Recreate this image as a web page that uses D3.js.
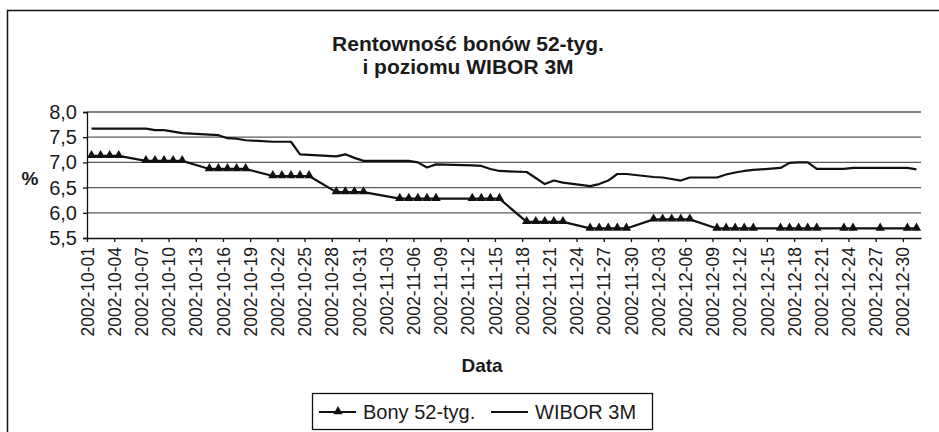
<!DOCTYPE html>
<html>
<head>
<meta charset="utf-8">
<script src="https://cdnjs.cloudflare.com/ajax/libs/d3/7.8.5/d3.min.js"></script>
<style>
  body { margin: 0; background: #fff; }
  text { font-family: "Liberation Sans", Arial, sans-serif; fill: #1a1a1a; }
</style>
</head>
<body>
<div id="chart-area"></div>
<script>
// SVG size
var width = 939,
    height = 432;

var margin = {left: 87, right: 18, top: 112, bottom: 194};

// Trading days (Oct - Dec 2002)
var dates = [
  "2002-10-01","2002-10-02","2002-10-03","2002-10-04",
  "2002-10-07","2002-10-08","2002-10-09","2002-10-10","2002-10-11",
  "2002-10-14","2002-10-15","2002-10-16","2002-10-17","2002-10-18",
  "2002-10-21","2002-10-22","2002-10-23","2002-10-24","2002-10-25",
  "2002-10-28","2002-10-29","2002-10-30","2002-10-31",
  "2002-11-04","2002-11-05","2002-11-06","2002-11-07","2002-11-08",
  "2002-11-12","2002-11-13","2002-11-14","2002-11-15",
  "2002-11-18","2002-11-19","2002-11-20","2002-11-21","2002-11-22",
  "2002-11-25","2002-11-26","2002-11-27","2002-11-28","2002-11-29",
  "2002-12-02","2002-12-03","2002-12-04","2002-12-05","2002-12-06",
  "2002-12-09","2002-12-10","2002-12-11","2002-12-12","2002-12-13",
  "2002-12-16","2002-12-17","2002-12-18","2002-12-19","2002-12-20",
  "2002-12-23","2002-12-24","2002-12-27","2002-12-30","2002-12-31"
];

// Bony 52-tyg.
var bony = [
  7.13, 7.13, 7.13, 7.13,
  7.03, 7.03, 7.03, 7.03, 7.03,
  6.87, 6.87, 6.87, 6.87, 6.87,
  6.73, 6.73, 6.73, 6.73, 6.73,
  6.41, 6.41, 6.41, 6.41,
  6.28, 6.28, 6.28, 6.28, 6.28,
  6.28, 6.28, 6.28, 6.28,
  5.82, 5.82, 5.82, 5.82, 5.82,
  5.69, 5.69, 5.69, 5.69, 5.69,
  5.87, 5.87, 5.87, 5.87, 5.87,
  5.69, 5.69, 5.69, 5.69, 5.69,
  5.69, 5.69, 5.69, 5.69, 5.69,
  5.69, 5.69, 5.69, 5.69, 5.69
];

// WIBOR 3M
var wibor = [
  7.67, 7.67, 7.67, 7.67,
  7.67, 7.64, 7.64, 7.61, 7.58,
  7.55, 7.54, 7.48, 7.47, 7.44,
  7.41, 7.41, 7.41, 7.16, 7.15,
  7.12, 7.16, 7.09, 7.03,
  7.03, 7.03, 7.00, 6.90, 6.96,
  6.94, 6.93, 6.87, 6.83,
  6.81, 6.69, 6.57, 6.64, 6.60,
  6.53, 6.57, 6.64, 6.77, 6.77,
  6.71, 6.70, 6.67, 6.64, 6.70,
  6.70, 6.76, 6.80, 6.83, 6.85,
  6.89, 6.99, 7.00, 7.00, 6.87,
  6.87, 6.89, 6.89, 6.89, 6.86
];

var yTicks = [5.5, 6.0, 6.5, 7.0, 7.5, 8.0];

var parseDate = d3.utcParse("%Y-%m-%d");
var fmtDate = d3.utcFormat("%Y-%m-%d");

var data = dates.map(function(d, i) {
    return {date: parseDate(d), bony: bony[i], wibor: wibor[i]};
});

var svg = d3.select("#chart-area")
    .append("svg")
    .attr("width", width)
    .attr("height", height);

// Outer chart frame (right and bottom edges lie outside the picture)
svg.append("rect")
    .attr("x", 7.5).attr("y", 10.5)
    .attr("width", 960).attr("height", 460)
    .attr("fill", "none").attr("stroke", "#111").attr("stroke-width", 1.5);

// Scales
var start = parseDate("2002-10-01"),
    end = parseDate("2003-01-01");

var x = d3.scaleUtc()
    .domain([start, end])
    .range([margin.left, width - margin.right]);

var y = d3.scaleLinear()
    .domain([5.5, 8.0])
    .range([height - margin.bottom, margin.top]);

// points sit in the middle of each day
function xc(d) { return x(d3.utcHour.offset(d, 12)); }

// Gridlines
svg.append("g")
    .selectAll("line")
    .data(yTicks.slice(1))
    .enter()
    .append("line")
    .attr("x1", margin.left).attr("x2", width - margin.right)
    .attr("y1", d => y(d)).attr("y2", d => y(d))
    .attr("stroke", "#5a5a5a").attr("stroke-width", 1.3);

// Axes
var yAxis = d3.axisLeft(y)
    .tickValues(yTicks)
    .tickSize(4)
    .tickPadding(6)
    .tickFormat(d => d3.format(".1f")(d).replace(".", ","));

var gy = svg.append("g")
    .attr("class", "axis y-axis")
    .attr("transform", "translate(" + margin.left + ",0)")
    .call(yAxis);
gy.select(".domain").attr("stroke", "#111").attr("stroke-width", 1.3);
gy.selectAll(".tick line").attr("stroke", "#111").attr("stroke-width", 1.3);
gy.selectAll("text").style("font-size", "20px").attr("fill", "#1a1a1a");

var xAxis = d3.axisBottom(x)
    .tickValues(d3.utcDay.range(start, end, 3))
    .tickSize(4)
    .tickSizeOuter(0)
    .tickFormat(fmtDate);

var gx = svg.append("g")
    .attr("class", "axis x-axis")
    .attr("transform", "translate(0," + (height - margin.bottom) + ")")
    .call(xAxis);
gx.select(".domain").attr("stroke", "#111").attr("stroke-width", 1.3);
gx.selectAll(".tick line").attr("stroke", "#111").attr("stroke-width", 1.3);
gx.selectAll("text")
    .style("font-size", "17.5px")
    .attr("fill", "#1a1a1a")
    .attr("text-anchor", "end")
    .attr("transform", "rotate(-90)")
    .attr("x", -9)
    .attr("y", 0)
    .attr("dy", "0.35em");

// Lines
var lineW = d3.line()
    .x(d => xc(d.date))
    .y(d => y(d.wibor));

var lineB = d3.line()
    .x(d => xc(d.date))
    .y(d => y(d.bony));

svg.append("path")
    .datum(data)
    .attr("d", lineW)
    .attr("fill", "none")
    .attr("stroke", "#111")
    .attr("stroke-width", 2.2)
    .attr("stroke-linejoin", "round");

svg.append("path")
    .datum(data)
    .attr("d", lineB)
    .attr("fill", "none")
    .attr("stroke", "#111")
    .attr("stroke-width", 2.2)
    .attr("stroke-linejoin", "round");

var tri = d3.symbol().type(d3.symbolTriangle).size(38);

svg.append("g")
    .selectAll("path")
    .data(data)
    .enter()
    .append("path")
    .attr("d", tri)
    .attr("transform", d => "translate(" + xc(d.date) + "," + (y(d.bony) - 0.5) + ")")
    .attr("fill", "#111");

// Titles
svg.append("text")
    .attr("x", 468).attr("y", 51)
    .attr("text-anchor", "middle")
    .style("font-size", "21px").style("font-weight", "bold")
    .text("Rentowność bonów 52-tyg.");

svg.append("text")
    .attr("x", 468).attr("y", 74)
    .attr("text-anchor", "middle")
    .style("font-size", "21px").style("font-weight", "bold")
    .text("i poziomu WIBOR 3M");

svg.append("text")
    .attr("x", 30).attr("y", 185)
    .attr("text-anchor", "middle")
    .style("font-size", "19px").style("font-weight", "bold")
    .text("%");

svg.append("text")
    .attr("x", 482).attr("y", 372)
    .attr("text-anchor", "middle")
    .style("font-size", "19px").style("font-weight", "bold")
    .text("Data");

// Legend
var legend = svg.append("g");
legend.append("rect")
    .attr("x", 312.5).attr("y", 393.5)
    .attr("width", 340).attr("height", 36)
    .attr("fill", "#fff").attr("stroke", "#111").attr("stroke-width", 1.3);

legend.append("line")
    .attr("x1", 319).attr("x2", 356).attr("y1", 412).attr("y2", 412)
    .attr("stroke", "#111").attr("stroke-width", 2.2);
legend.append("path")
    .attr("d", tri)
    .attr("transform", "translate(338,411.5)")
    .attr("fill", "#111");
legend.append("text")
    .attr("x", 363).attr("y", 419)
    .style("font-size", "20px")
    .text("Bony 52-tyg.");

legend.append("line")
    .attr("x1", 491).attr("x2", 528).attr("y1", 412).attr("y2", 412)
    .attr("stroke", "#111").attr("stroke-width", 2.2);
legend.append("text")
    .attr("x", 535).attr("y", 419)
    .style("font-size", "20px")
    .text("WIBOR 3M");
</script>
</body>
</html>
